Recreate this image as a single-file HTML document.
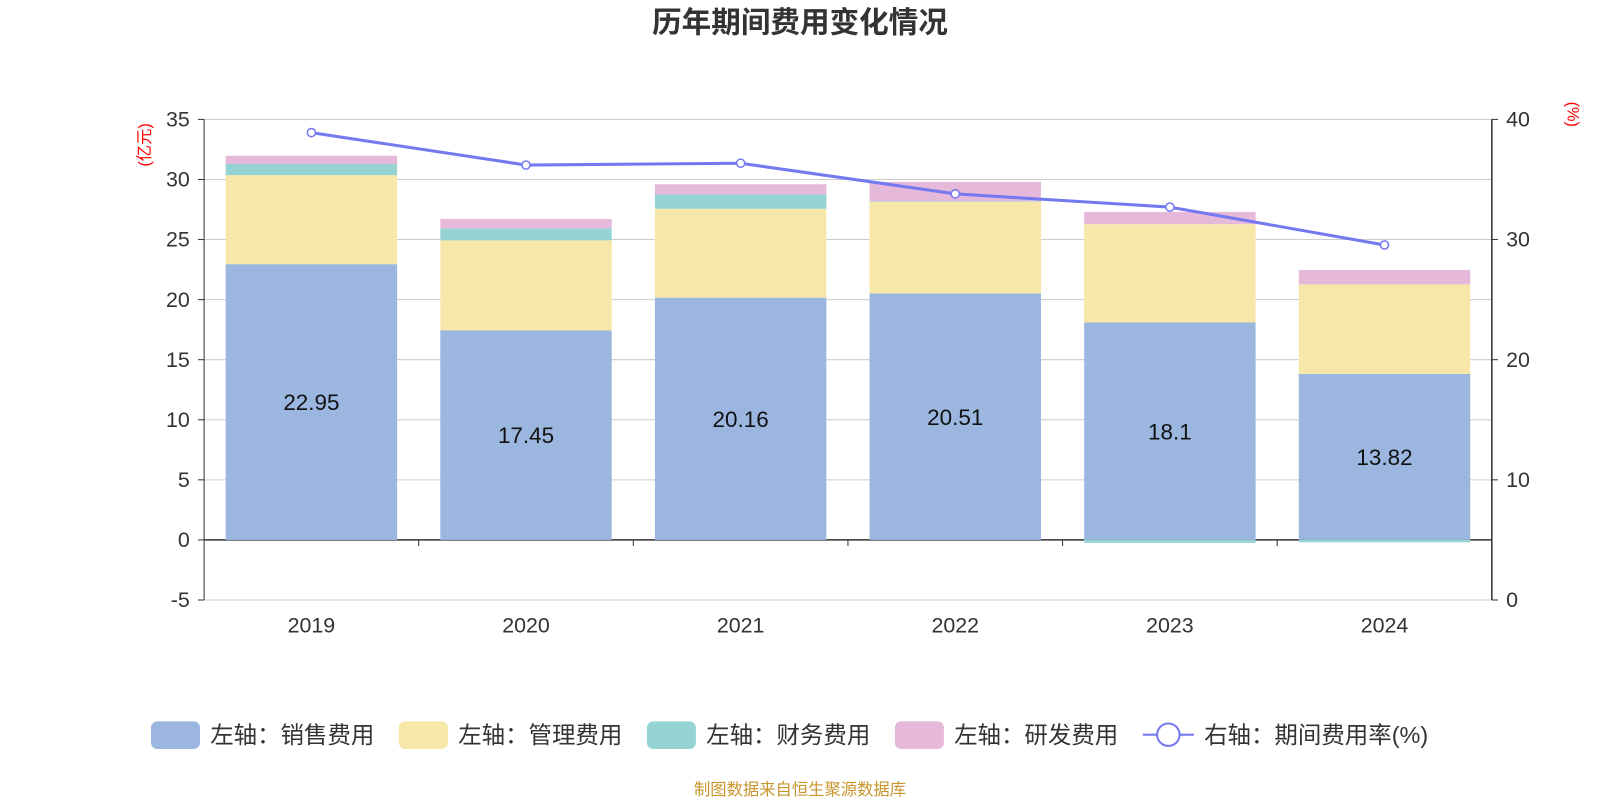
<!DOCTYPE html>
<html><head><meta charset="utf-8"><style>
body{margin:0;background:#fff;}
svg text{font-family:"Liberation Sans","Noto Sans CJK SC",sans-serif;}
</style></head><body>
<svg id="c" width="1600" height="800" xmlns="http://www.w3.org/2000/svg">
<g transform="scale(1.0204)">
<text x="784" y="32" text-anchor="middle" font-size="29" font-weight="bold" fill="#333">历年期间费用变化情况</text>
<text transform="translate(147,142) rotate(-90)" text-anchor="middle" font-size="16" fill="red">(亿元)</text>
<text transform="translate(1536,112) rotate(90)" text-anchor="middle" font-size="16" fill="red">(%)</text>
<g id="grid"></g><g id="bars"></g><g id="axes"></g><g id="line"></g>
<g id="legend"></g>
<text x="784" y="779" text-anchor="middle" font-size="16" fill="#c8962d">制图数据来自恒生聚源数据库</text>
</g>
</svg>
<script>
const categories=["2019","2020","2021","2022","2023","2024"];
const sales=[22.95,17.45,20.16,20.51,18.1,13.82];
const mgmt=[7.41,7.48,7.40,7.64,8.18,7.45];
const fin=[0.93,1.01,1.19,0.05,-0.25,-0.2];
const rd=[0.68,0.77,0.85,1.6,1.02,1.19];
const rate=[38.9,36.2,36.35,33.8,32.7,29.55];
const leftTicks=[-5,0,5,10,15,20,25,30,35];
const rightTicks=[0,10,20,30,40];
const NS="http://www.w3.org/2000/svg";
const X0=200,X1=1462,YT=117,YB=588;
const yL=v=>YB-(v+5)/40*(YB-YT);
const yR=v=>YB-v/40*(YB-YT);
const bw=(X1-X0)/categories.length;
const xc=i=>X0+bw*(i+0.5);
function mk(p,t,a){const e=document.createElementNS(NS,t);for(const k in a)e.setAttribute(k,a[k]);document.getElementById(p).appendChild(e);return e;}
leftTicks.forEach(v=>{
 const g=mk('grid','line',{x1:X0,x2:X1,y1:yL(v),y2:yL(v),stroke:v===0?'#333':'#ccc','stroke-width':v===0?1.5:1});
 
 
 const t=mk('axes','text',{x:X0-14,y:yL(v)+7,'text-anchor':'end','font-size':21,fill:'#333'});t.textContent=v;
 
 
 mk('axes','line',{x1:X0-6,x2:X0,y1:yL(v),y2:yL(v),stroke:'#333'});
});
mk('axes','line',{x1:X0,x2:X0,y1:YT,y2:YB,stroke:'#333'});
mk('axes','line',{x1:X1,x2:X1,y1:YT,y2:YB,stroke:'#333','stroke-width':1.5});
rightTicks.forEach(v=>{
 mk('axes','line',{x1:X1,x2:X1+6,y1:yR(v),y2:yR(v),stroke:'#333'});
 const t=mk('axes','text',{x:X1+14,y:yR(v)+7,'font-size':21,fill:'#333'});t.textContent=v;
 
 
});
for(let i=1;i<categories.length;i++)mk('axes','line',{x1:X0+bw*i,x2:X0+bw*i,y1:yL(0),y2:yL(0)+6,stroke:'#333'});
const cols=['#9bb7e0','#f7e7a9','#96d4d4','#e6b8d9'];
const series=[sales,mgmt,fin,rd];
categories.forEach((c,i)=>{
 let pos=0,neg=0;const w=168,x=xc(i)-w/2;
 series.forEach((s,k)=>{
  const v=s[i];let a,b;
  if(v>=0){a=pos;b=pos+v;pos=b;}else{a=neg;b=neg+v;neg=b;}
  const r=mk('bars','rect',{x:x,width:w,y:Math.min(yL(a),yL(b)),height:Math.abs(yL(a)-yL(b)),fill:cols[k]});
  
  
 });
 const t=mk('bars','text',{x:xc(i),y:yL(sales[i]/2)+8,'text-anchor':'middle','font-size':22,fill:'#111'});t.textContent=sales[i];
 
 
 const xl=mk('axes','text',{x:xc(i),y:620,'text-anchor':'middle','font-size':21,fill:'#333'});xl.textContent=c;
 
 
});
const pl=mk('line','polyline',{points:rate.map((v,i)=>xc(i)+','+yR(v)).join(' '),fill:'none',stroke:'#7479f0','stroke-width':3});


rate.forEach((v,i)=>{const p=mk('line','circle',{cx:xc(i),cy:yR(v),r:4,fill:'#fff',stroke:'#7479f0','stroke-width':1.5});
 
 });
const legs=[["左轴：销售费用",148],["左轴：管理费用",391],["左轴：财务费用",634],["左轴：研发费用",877]];
legs.forEach((l,k)=>{
 const r=mk('legend','rect',{x:l[1],y:707,width:48,height:27,rx:6,fill:cols[k]});
 
 
 const t=mk('legend','text',{x:l[1]+58,y:728,'font-size':23,fill:'#333'});t.textContent=l[0];
 
 
});
mk('legend','line',{x1:1120,x2:1170,y1:720,y2:720,stroke:'#7479f0','stroke-width':2});
mk('legend','circle',{cx:1145,cy:720,r:11,fill:'#fff',stroke:'#7479f0','stroke-width':2});
const lt=mk('legend','text',{x:1180,y:728,'font-size':23,fill:'#333'});lt.textContent="右轴：期间费用率(%)";


</script>
</body></html>
